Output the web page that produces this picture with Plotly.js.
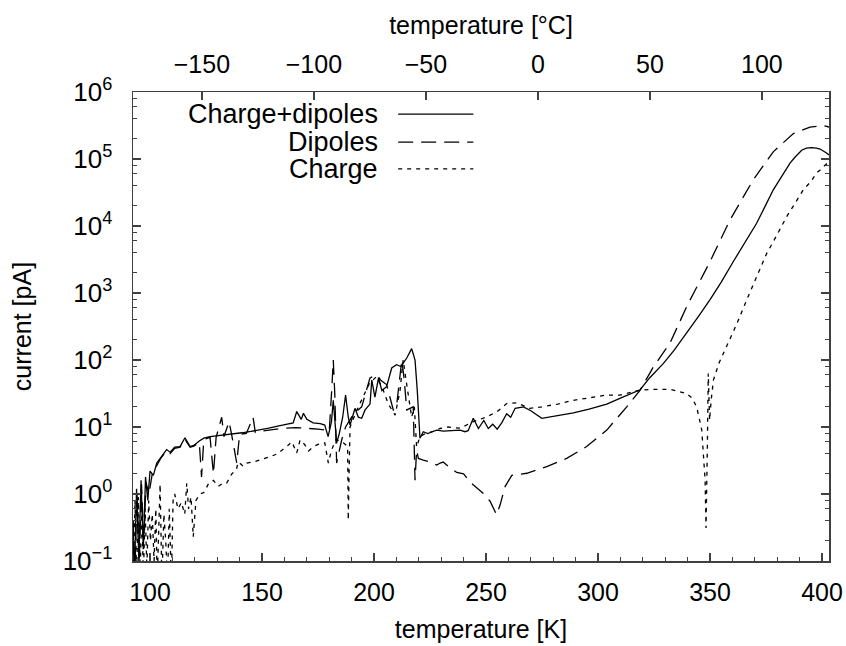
<!DOCTYPE html>
<html><head><meta charset="utf-8">
<script src="https://cdn.plot.ly/plotly-3.0.1.min.js"></script>
<style>html,body{margin:0;padding:0;background:#fff}#chart{width:846px;height:646px}</style>
</head><body><div id="chart"></div>
<script>
// ---- data (temperature in K, current in pA) ----
const seriesNames = ["Charge+dipoles", "Dipoles", "Charge"];

const T_chargeDipoles = [92.5,93.0,94.0,95.0,96.0,97.0,98.0,99.0,100.0,101.5,103,105,107.4,109,111,113.4,115.6,117.9,119.5,122,124,126.8,130,133,137,141,145,149,153,157,161,163.9,165.5,166.5,167.5,168.5,170,172.8,176,178,179.5,181,181.8,183.3,184.5,186,187.3,188.5,189.3,191.5,193,194.5,196,198.2,199,200.4,202,203.5,205.6,207.9,210,212,214.6,216.8,218.3,219.3,220.5,222,224,226,228,231,234,238.4,240.6,242,244.3,246.6,249,251,253,255,257,259.2,261,263,266.7,270,274.9,280,289,296,303.9,310,318.8,323,329.2,334,339.6,345,350,355,360.4,365,370.8,375,378.3,382,385.7,388,390.9,393,395.4,397.5,399.1,402,403.1];
const I_chargeDipoles = [0.3,0.05,1.2,0.1,1.6,0.15,1.8,0.8,2.2,1.9,2.9,3.6,4.6,4.2,5.0,5.1,6.9,5.1,5.3,6.2,6.8,7.2,7.4,7.6,7.8,8.2,8.6,9.0,9.6,10.3,11.0,11.5,17,15,13,16,13,11.5,11.2,10.7,7.2,12,25,5.8,8,14,30,14,10.7,19,14,13.5,18,22,50,28,54,35,40,76,85,80,107,148,100,35,6.8,8.5,8,8.5,9.0,8.7,8.8,9.0,8.5,8.8,13.5,9.5,12.5,9.5,11,9.3,11.5,15.8,14,19,20,17.5,13.5,14.5,16.2,18.5,21.9,27,36,54,89,140,251,457,794,1450,2950,5250,1.1e4,2.1e4,3.5e4,5.5e4,8.7e4,1.07e5,1.35e5,1.45e5,1.48e5,1.45e5,1.41e5,1.23e5,1.15e5];

const T_dipoles = [92.5,93.2,94.2,95.2,96.2,97.2,98.2,99.5,101,103,105,107.4,109,111,113.4,115.6,117.9,119.5,122,123,124,126.8,128.3,129.5,132,133,135.3,136.5,138.7,140,143,146,147,150,155,160,165,170,175,178,180,181.2,181.8,182.5,183.3,184.2,185.6,187.3,190,192,194.5,196,198.2,201.2,203,205.6,207,208.6,210,211.5,212.4,213.5,214.6,217.5,218.3,219,219.8,222,225,228,229.5,230.9,233,236.9,240,242.9,245,248.8,251.8,253.5,254.7,256.3,258.5,261.5,265,268.2,277.1,286,294.9,303.9,312.8,318.8,324.7,332.1,339.6,350,358.9,369.3,378.3,387.2,394.6,400.6,403.1];
const I_dipoles = [0.4,0.06,1.0,0.1,1.4,0.2,1.5,1.0,2.0,2.7,3.5,4.4,4.0,4.8,5.0,6.5,5.0,5.2,5.8,1.8,6.5,7.0,2.0,7.0,14,7.2,12,7.5,2.9,7.8,8.0,14,8.3,8.7,9.2,9.6,9.8,9.6,9.3,9.0,8.5,40,100,30,2.9,4,6.5,10,14,17,20,30,54,60,50,43,28,18,20,50,100,50,18,20,1.6,4.5,3.4,3.2,3.0,2.7,2.9,3.0,2.6,2.1,2.0,1.5,1.3,1.02,0.78,0.6,0.49,0.69,1.29,1.9,1.95,2.04,2.57,3.4,5.1,9.0,20,35.5,79,178,631,2950,1.23e4,4.9e4,1.29e5,2.4e5,3.0e5,3.16e5,3.0e5];

const T_charge = [92.5,93.3,94,94.8,95.6,96.4,97,97.8,98.6,99.4,100.2,101,101.8,102.6,103.2,104.5,105.3,106.2,107,107.8,108.6,109.5,110.3,111,112.5,114,115.5,116.4,117.2,118.3,119.3,120.5,122.3,124,126,128.3,130.5,132.5,134.2,136.5,138.5,139.4,141.6,143.2,146,149,153.6,157,159.5,161.5,163.3,165.5,167,169,170.8,172.9,175,178,179.6,181,183,186.3,188.2,188.5,188.9,189.3,192.3,195,198,201,203.5,206.4,209.4,211.6,213,214.5,216.8,218,219,220.5,223,226,229.5,233,238.4,244.3,250,255,259.2,263.6,267,269.6,275,282,289,296,303.9,309.8,318.8,326,332,336,339.6,342,344,345.5,346.3,347,347.8,348.2,348.5,348.8,349.2,349.5,349.8,350.5,351.5,354,357.4,362,366.4,371,375.3,380,384.2,388,391.7,395,397.6,400,401.3,403.1];
const I_charge = [0.05,0.8,0.06,0.9,0.07,0.7,0.05,0.6,0.08,0.8,0.2,0.5,0.1,0.6,0.05,1.4,0.05,0.5,0.2,0.05,0.6,0.05,0.8,1.0,0.6,0.75,0.5,1.45,0.6,0.9,0.23,0.8,1.0,1.05,1.4,1.6,1.3,1.45,1.45,2.0,2.3,3.0,2.6,2.9,3.0,3.2,3.6,4.0,4.6,5.3,6.0,4.1,6.4,5.5,4.4,5.1,5.5,5.8,2.9,4.5,6.5,5.8,5.1,0.41,2.5,10,17.8,28,45,56,40,22,15,35,100,45,14,20,5,7.2,8,8.5,9.5,10,9.6,12,14,17,22.4,23,20.5,19,20,22,25,27.5,30,30,35.5,36.5,36.5,34,31.6,27,20,12,9,4,1.6,0.31,1.0,5.1,63,30,12.6,25,50,90,158,350,794,1800,3900,7500,1.38e4,2.2e4,3.5e4,4.6e4,6.2e4,7.2e4,8.1e4,9.0e4];

const kelvinTicks = [100,150,200,250,300,350,400];
const celsiusTicks = [-150,-100,-50,0,50,100];
const currentTickVals = [1e-1,1e0,1e1,1e2,1e3,1e4,1e5,1e6];
const currentTickText = ["10<sup>\u22121</sup>","10<sup>0</sup>","10<sup>1</sup>","10<sup>2</sup>","10<sup>3</sup>","10<sup>4</sup>","10<sup>5</sup>","10<sup>6</sup>"];
const minorMantissas = [2,4,6,8];
const xRangeK = [92.4, 403.1];
const yRangeLog = [-1, 6];
const KELVIN_OFFSET = 273.15;
const yTitle = "current [pA]";

const minorY = [];
currentTickVals.slice(0, -1).forEach(d => minorMantissas.forEach(m => minorY.push(m * d)));

const FONT = "Liberation Sans, Arial, Helvetica, sans-serif";
const AX = "#404040";
const lineW = 1.3;
const dashes = ["solid", "15px,8px", "4px,5px"];

const traces = [
  {x: T_chargeDipoles, y: I_chargeDipoles, name: seriesNames[0], mode: "lines",
   line: {color: "#000", width: lineW, dash: dashes[0]}},
  {x: T_dipoles, y: I_dipoles, name: seriesNames[1], mode: "lines",
   line: {color: "#000", width: lineW, dash: dashes[1]}},
  {x: T_charge, y: I_charge, name: seriesNames[2], mode: "lines",
   line: {color: "#000", width: lineW, dash: dashes[2]}},
  {x: [], y: [], xaxis: "x2", yaxis: "y", showlegend: false, hoverinfo: "skip"}
];

// legend drawn gnuplot-style: right-aligned text, sample line to the right
const legY = [0.953, 0.893, 0.836];
const annotations = seriesNames.map((n, i) => ({
  text: n, xref: "paper", yref: "paper", x: 0.355, y: legY[i],
  xanchor: "right", yanchor: "middle", showarrow: false,
  font: {family: FONT, size: 27, color: "#000"}
}));
annotations.push({
  text: yTitle, xref: "paper", yref: "paper", x: -0.16, y: 0.5, textangle: -90,
  xanchor: "center", yanchor: "middle", showarrow: false,
  font: {family: FONT, size: 25, color: "#000"}
});
const shapes = seriesNames.map((n, i) => ({
  type: "line", xref: "paper", yref: "paper", x0: 0.381, x1: 0.489, y0: legY[i], y1: legY[i],
  line: {color: "#000", width: lineW, dash: dashes[i]}
}));

const layout = {
  width: 846, height: 646,
  margin: {l: 133, r: 17, t: 92, b: 85},
  paper_bgcolor: "#fff", plot_bgcolor: "#fff",
  showlegend: false,
  font: {family: FONT, size: 25, color: "#000"},
  xaxis: {
    range: xRangeK, tickmode: "array", tickvals: kelvinTicks, showgrid: false, zeroline: false,
    ticks: "inside", ticklen: 8, tickwidth: 1.3, tickcolor: AX,
    showline: true, linecolor: AX, linewidth: 1.5, mirror: true,
    ticklabelstandoff: 8,
    minor: {tickmode: "linear", tick0: 100, dtick: 10, ticks: "inside", ticklen: 4, tickwidth: 1.2, tickcolor: AX, showgrid: false},
    title: {text: "temperature [K]", standoff: 16, font: {family: FONT, size: 25}}
  },
  xaxis2: {
    overlaying: "x", side: "top",
    range: xRangeK.map(v => v - KELVIN_OFFSET), tickmode: "array", tickvals: celsiusTicks,
    showgrid: false, zeroline: false, showline: false,
    ticks: "inside", ticklen: 8, tickwidth: 1.3, tickcolor: AX,
    ticklabelstandoff: 13,
    title: {text: "temperature [°C]", standoff: 8, font: {family: FONT, size: 25}}
  },
  yaxis: {
    type: "log", range: yRangeLog, tickmode: "array", tickvals: currentTickVals, ticktext: currentTickText,
    tickfont: {family: FONT, size: 26},
    showgrid: false, zeroline: false,
    ticks: "inside", ticklen: 8, tickwidth: 1.3, tickcolor: AX,
    showline: true, linecolor: AX, linewidth: 1.5, mirror: "ticks",
    ticklabelstandoff: 14,
    minor: {tickmode: "array", tickvals: minorY, ticks: "inside", ticklen: 4, tickwidth: 1.2, tickcolor: AX, showgrid: false}
  },
  annotations: annotations,
  shapes: shapes
};

Plotly.newPlot("chart", traces, layout, {staticPlot: true, displayModeBar: false});
</script></body></html>
